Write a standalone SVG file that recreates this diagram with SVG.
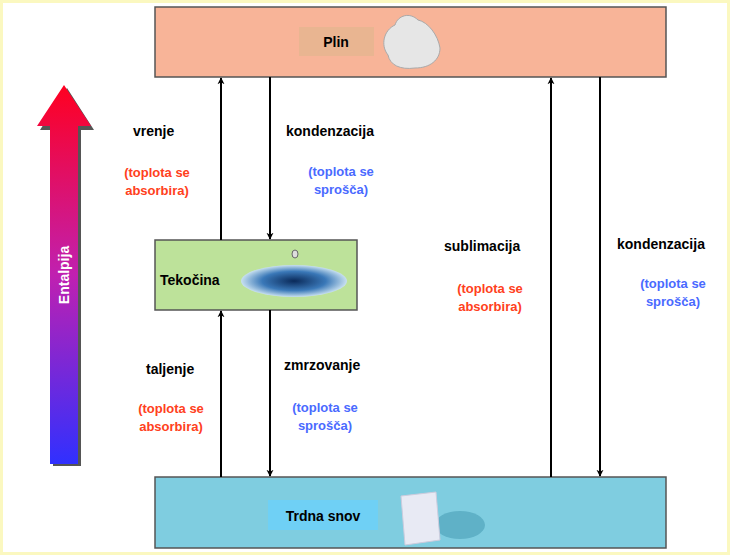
<svg xmlns="http://www.w3.org/2000/svg" width="730" height="555" viewBox="0 0 730 555">
<defs>
<linearGradient id="ent" x1="0" y1="0" x2="0" y2="1"><stop offset="0" stop-color="#ff0020"/><stop offset="0.5" stop-color="#c020b0"/><stop offset="1" stop-color="#3030ff"/></linearGradient>
<radialGradient id="wat" cx="0.5" cy="0.5" r="0.5"><stop offset="0" stop-color="#0a2a5a"/><stop offset="0.6" stop-color="#3a78b8"/><stop offset="1" stop-color="#c8e0f0"/></radialGradient>
<marker id="ah" viewBox="0 0 10 10" refX="9" refY="5" markerWidth="7" markerHeight="9" orient="auto" markerUnits="userSpaceOnUse"><path d="M0,0 L10,5 L0,10 L3,5 Z" fill="#000"/></marker>
</defs>
<style>
.box{stroke:#555;stroke-width:1.5}
.t{font-family:"Liberation Sans",Arial,sans-serif;font-weight:bold;font-size:14px;fill:#000}
.r{font-family:"Liberation Sans",Arial,sans-serif;font-weight:bold;font-size:13px;fill:#ff4020;text-anchor:middle}
.b{font-family:"Liberation Sans",Arial,sans-serif;font-weight:bold;font-size:13px;fill:#4a6aff;text-anchor:middle}
.c{stroke:#000;stroke-width:2;fill:none;marker-end:url(#ah)}
</style>
<rect x="1.5" y="1.5" width="727" height="552" fill="#fff" stroke="#fbf8c0" stroke-width="3"/>
<g id="enthalpy">
<path d="M53,130 L40,130 L67,88 L94,130 L81,130 L81,466 L53,466 Z" fill="#555"/>
<path d="M50,126 L37,126 L64,85 L91,126 L78,126 L78,464 L50,464 Z" fill="url(#ent)"/>
<text transform="translate(69,275) rotate(-90)" text-anchor="middle" font-family="Liberation Sans,Arial,sans-serif" font-weight="bold" font-size="14" fill="#fff">Entalpija</text>
</g>
<g id="plin">
<rect class="box" x="155" y="7" width="511" height="70" fill="#f8b498"/>
<rect x="299" y="27" width="75" height="29" fill="#e9b591"/>
<text class="t" x="336" y="47" text-anchor="middle">Plin</text>
<path d="M388,55 C380,45 384,30 395,25 C398,15 410,12 418,20 C428,22 438,35 440,48 C440,60 430,68 415,68 C400,70 390,65 388,55 Z" fill="#e6e6e6" stroke="#aaa"/>
</g>
<g id="tekocina">
<rect class="box" x="155" y="240" width="202" height="70" fill="#bde29a"/>
<text class="t" x="160" y="285">Tekočina</text>
<ellipse cx="294" cy="281" rx="53" ry="16" fill="url(#wat)"/>
<ellipse cx="295" cy="254" rx="3" ry="4" fill="#ddd" stroke="#666"/>
</g>
<g id="trdna">
<rect class="box" x="155" y="477" width="511" height="71" fill="#7fcde0"/>
<rect x="268" y="500" width="110" height="30" fill="#6fd0f5"/>
<text class="t" x="323" y="521" text-anchor="middle">Trdna snov</text>
<ellipse cx="460" cy="525" rx="25" ry="14" fill="#4a9fb5" opacity="0.6"/>
<path d="M401,496 L436,492 L440,540 L405,545 Z" fill="#e8eaf4" stroke="#ccd" />
</g>
<g id="connectors">
<line class="c" x1="221" y1="240" x2="221" y2="78"/>
<line class="c" x1="270" y1="77" x2="270" y2="239"/>
<line class="c" x1="221" y1="477" x2="221" y2="311"/>
<line class="c" x1="270" y1="310" x2="270" y2="476"/>
<line class="c" x1="551" y1="477" x2="551" y2="78"/>
<line class="c" x1="600" y1="77" x2="600" y2="476"/>
</g>
<g id="labels">
<text class="t" x="133" y="136">vrenje</text>
<text class="r" x="157" y="177">(toplota se</text>
<text class="r" x="157" y="195">absorbira)</text>
<text class="t" x="286" y="136">kondenzacija</text>
<text class="b" x="341" y="176">(toplota se</text>
<text class="b" x="341" y="194">sprošča)</text>
<text class="t" x="146" y="374">taljenje</text>
<text class="r" x="171" y="413">(toplota se</text>
<text class="r" x="171" y="431">absorbira)</text>
<text class="t" x="284" y="370">zmrzovanje</text>
<text class="b" x="325" y="412">(toplota se</text>
<text class="b" x="325" y="430">sprošča)</text>
<text class="t" x="444" y="251">sublimacija</text>
<text class="r" x="490" y="293">(toplota se</text>
<text class="r" x="490" y="311">absorbira)</text>
<text class="t" x="617" y="249">kondenzacija</text>
<text class="b" x="673" y="288">(toplota se</text>
<text class="b" x="673" y="306">sprošča)</text>
</g>
</svg>
